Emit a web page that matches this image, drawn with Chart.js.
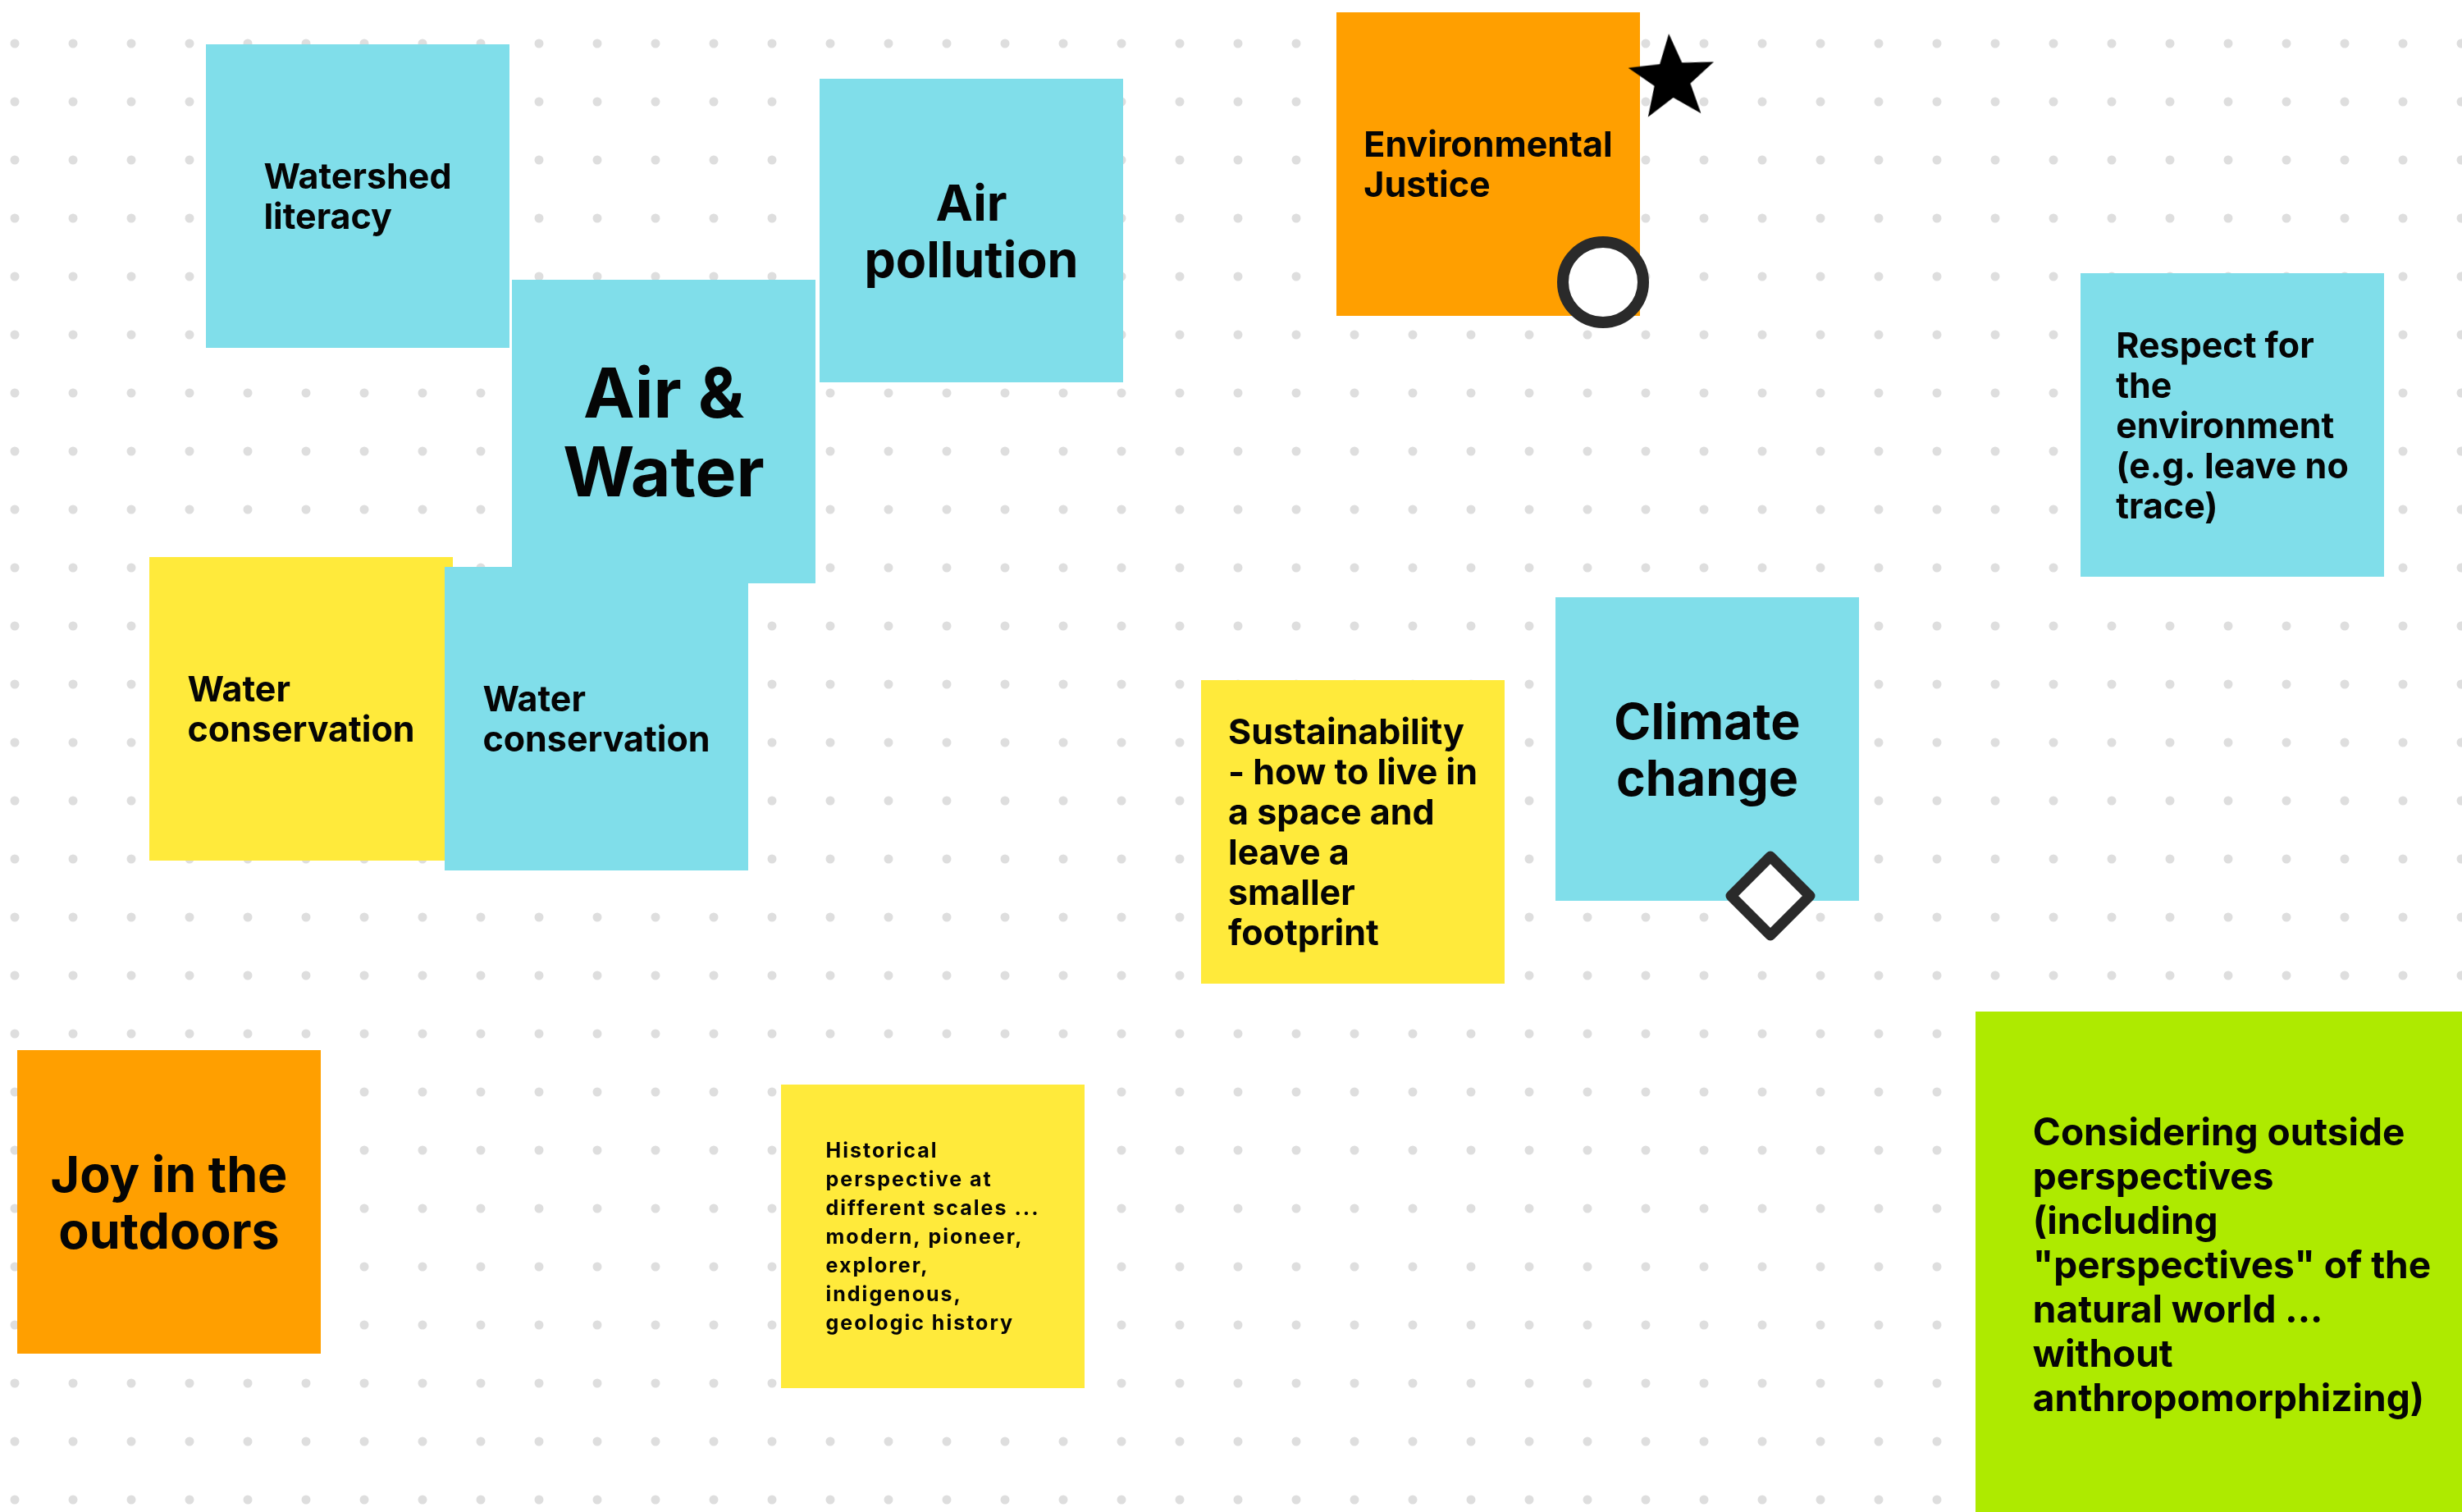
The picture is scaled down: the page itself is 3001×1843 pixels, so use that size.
<!DOCTYPE html>
<html>
<head>
<meta charset="utf-8">
<script src="https://cdn.jsdelivr.net/npm/chart.js@4.4.1/dist/chart.umd.min.js"></script>
<style>
  html, body { margin:0; padding:0; background:#fff; overflow:hidden; }
  #wrap { width:3001px; height:1843px; position:relative; }
</style>
</head>
<body>
<div id="wrap"><canvas id="board"></canvas></div>
<script>
// board data (board units = picture units)
const noteText = [
  ['Watershed', 'literacy'],
  ['Air', 'pollution'],
  ['Environmental', 'Justice'],
  ['Air &', 'Water'],
  ['Respect for', 'the', 'environment', '(e.g. leave no', 'trace)'],
  ['Water', 'conservation'],
  ['Water', 'conservation'],
  ['Sustainability', '- how to live in', 'a space and', 'leave a', 'smaller', 'footprint'],
  ['Climate', 'change'],
  ['Joy in the', 'outdoors'],
  ['Historical', 'perspective at', 'different scales ...', 'modern, pioneer,', 'explorer,', 'indigenous,', 'geologic history'],
  ['Considering outside', 'perspectives', '(including', '"perspectives" of the', 'natural world ...', 'without', 'anthropomorphizing)']
];
const noteKind = ['blue','blue','orange','blue','blue','yellow','blue','yellow','blue','orange','yellow','green'];
const noteX = [251, 999, 1629, 624, 2536, 182, 542, 1464, 1896, 21, 952, 2408];
const noteY = [54, 96, 15, 341, 333, 679, 691, 829, 728, 1280, 1322, 1233];

const markerKind = ['star', 'circle', 'diamond'];
const markerX = [2038, 1954, 2158];
const markerY = [96, 344, 1092];

// styles
const BOARD_W = 3001, BOARD_H = 1843;
const NOTE_SIZE = 370;
const NOTE_SIZE_BIG = { 11: [625, 616] };
const KIND_COLORS = { blue:'#80deea', orange:'#ff9f00', yellow:'#ffea3b', green:'#aeea00' };
const TEXT_STYLES = {
  m:  { size:43, lh:49, align:'block' },
  l:  { size:61, lh:69, align:'center' },
  xl: { size:84, lh:96, align:'center' },
  s:  { size:25, lh:35, align:'block', spacing:'2px' },
  g:  { size:46, lh:54, align:'block' }
};
const noteTextStyle = ['m','l','m','xl','m','m','m','m','l','l','s','g'];
const DOT = { step:71, x0:18, y0:53, r:5.5, color:'#dedede' };
const FONT = 'Inter, "Open Sans", sans-serif';

function starCanvas(R){
  const c = document.createElement('canvas'); c.width = c.height = Math.ceil(R*2+4);
  const g = c.getContext('2d'), m = c.width/2, inner = R*0.42;
  g.beginPath();
  for(let i=0;i<10;i++){
    const a = -Math.PI/2 + i*Math.PI/5, r = i%2 ? inner : R;
    g.lineTo(m + r*Math.cos(a), m + r*Math.sin(a));
  }
  g.closePath(); g.fillStyle = '#000'; g.fill();
  return c;
}

function drawNote(ctx, xs, ys, i){
  const sz = NOTE_SIZE_BIG[i] || [NOTE_SIZE, NOTE_SIZE];
  const left = xs.getPixelForValue(noteX[i]), right = xs.getPixelForValue(noteX[i] + sz[0]);
  const top = ys.getPixelForValue(noteY[i]), bottom = ys.getPixelForValue(noteY[i] + sz[1]);
  ctx.fillStyle = KIND_COLORS[noteKind[i]];
  ctx.fillRect(left, top, right-left, bottom-top);

  const st = TEXT_STYLES[noteTextStyle[i]];
  const lines = noteText[i];
  ctx.font = `700 ${st.size}px ${FONT}`;
  ctx.letterSpacing = st.spacing || '0px';
  ctx.fillStyle = '#050505';
  ctx.textBaseline = 'alphabetic'; ctx.textAlign = 'left';
  const widths = lines.map(l => ctx.measureText(l).width);
  const maxW = Math.max(...widths);
  const cx = (left+right)/2, cy = (top+bottom)/2, capH = st.size*0.727, n = lines.length;
  lines.forEach((l, k) => {
    const by = cy + capH/2 + (k - (n-1)/2)*st.lh;
    const tx = st.align === 'center' ? cx - widths[k]/2 : left + ((right-left) - maxW)/2;
    ctx.fillText(l, tx, by);
  });
  ctx.letterSpacing = '0px';
}

const boardPlugin = {
  id: 'board',
  beforeDatasetsDraw(chart){
    const ctx = chart.ctx, xs = chart.scales.x, ys = chart.scales.y;
    ctx.save();
    ctx.fillStyle = '#fff'; ctx.fillRect(0, 0, chart.width, chart.height);
    // dotted grid
    ctx.fillStyle = DOT.color;
    for(let gx = DOT.x0; gx <= BOARD_W; gx += DOT.step){
      for(let gy = DOT.y0; gy <= BOARD_H; gy += DOT.step){
        ctx.beginPath(); ctx.arc(xs.getPixelForValue(gx), ys.getPixelForValue(gy), DOT.r, 0, Math.PI*2); ctx.fill();
      }
    }
    // sticky notes, in stacking order
    noteText.forEach((_, i) => drawNote(ctx, xs, ys, i));
    ctx.restore();
    ctx.lineJoin = 'round';
  }
};

const star = starCanvas(55);
const styleFor = { star: star, circle: 'circle', diamond: 'rectRot' };
const radiusFor = { star: 50, circle: 49, diamond: 48 };
const borderFor = { star: 0, circle: 14, diamond: 13 };

new Chart(document.getElementById('board'), {
  type: 'scatter',
  data: {
    datasets: [{
      data: markerX.map((x, i) => ({ x, y: markerY[i] })),
      pointStyle: markerKind.map(k => styleFor[k]),
      pointRadius: markerKind.map(k => radiusFor[k]),
      pointBorderWidth: markerKind.map(k => borderFor[k]),
      pointBackgroundColor: '#ffffff',
      pointBorderColor: '#2a2a2a',
      pointRotation: markerKind.map(k => k === 'star' ? -4 : 0),
      clip: false
    }]
  },
  options: {
    responsive: true, maintainAspectRatio: false, animation: false,
    events: [],
    layout: { padding: 0, autoPadding: false },
    plugins: { legend: { display:false }, tooltip: { enabled:false } },
    scales: {
      x: { type:'linear', min:0, max:BOARD_W, display:false },
      y: { type:'linear', min:0, max:BOARD_H, reverse:true, display:false }
    }
  },
  plugins: [boardPlugin]
});
</script>
</body>
</html>
